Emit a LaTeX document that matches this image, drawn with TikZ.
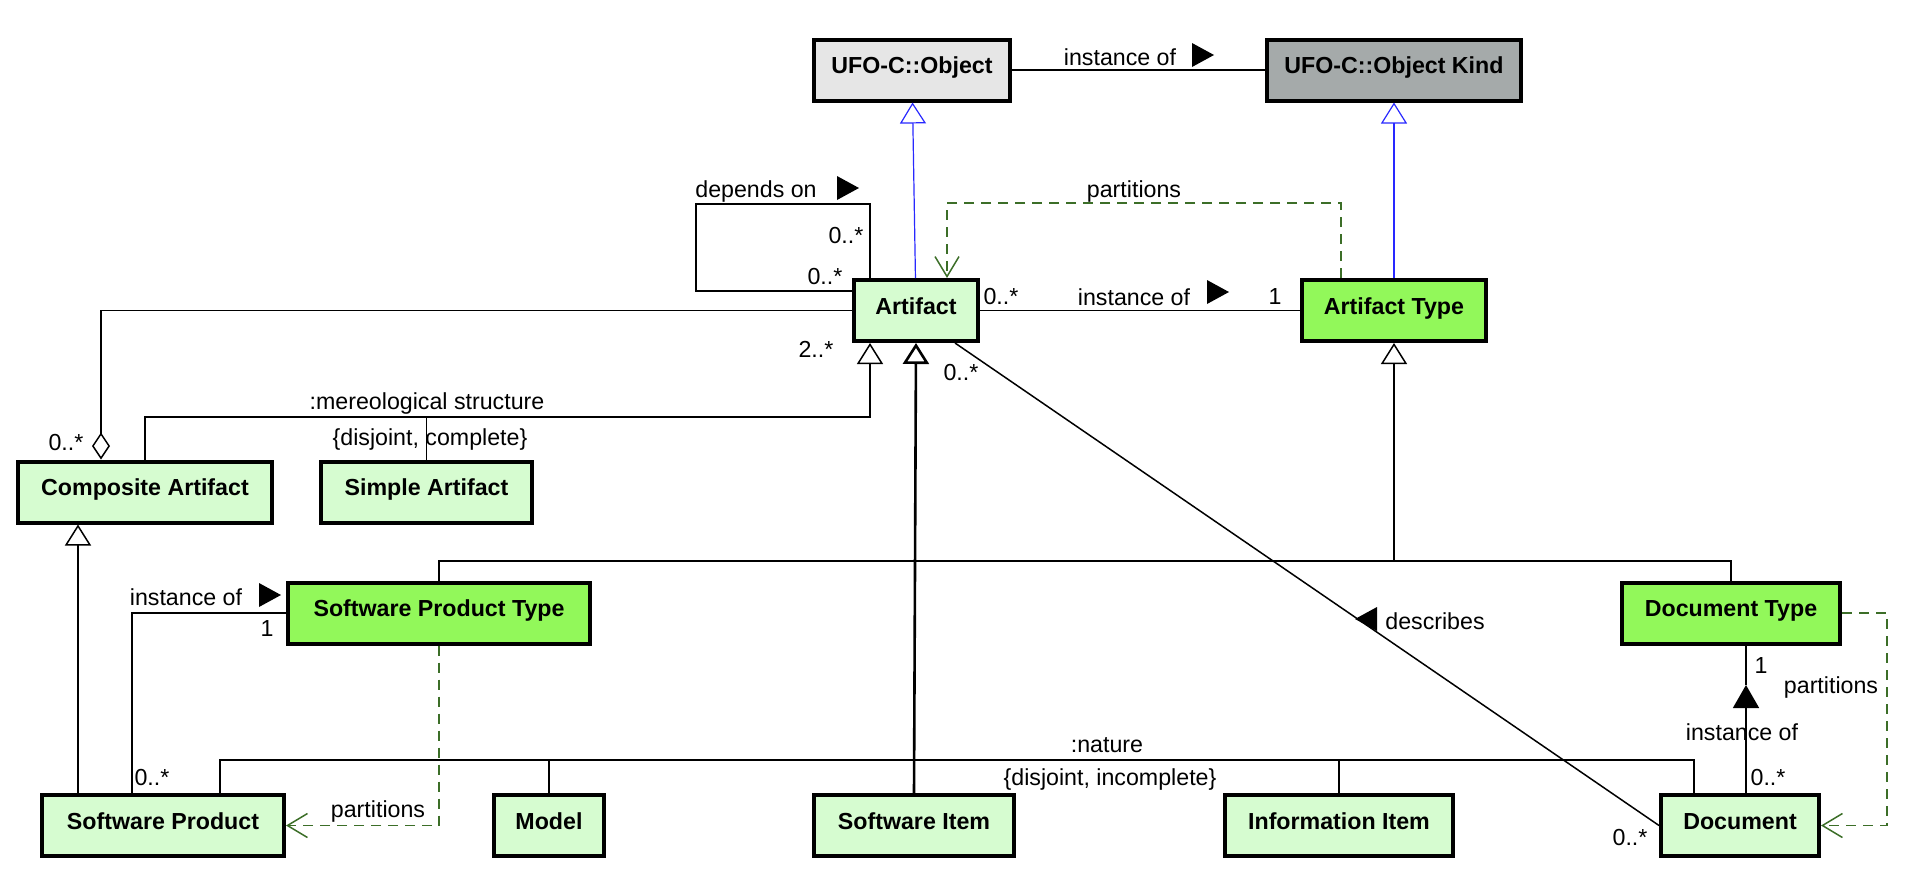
\documentclass[tikz,border=0pt]{standalone}
\usepackage{fontspec}
\setmainfont{Liberation Sans}
\usetikzlibrary{arrows.meta,positioning}

\definecolor{artgreen}{RGB}{214,252,208}
\definecolor{typegreen}{RGB}{146,248,90}
\definecolor{ufolight}{RGB}{230,230,230}
\definecolor{ufodark}{RGB}{165,170,170}
\definecolor{partgreen}{RGB}{60,110,40}
\definecolor{genblue}{RGB}{40,40,255}

\begin{document}
\begin{tikzpicture}[
  x=0.5pt, y=-0.5pt,
  font=\fontsize{11.6}{13}\selectfont,
  cls/.style={draw, line width=2pt, font=\fontsize{11.6}{13}\selectfont\bfseries,
              minimum height=30.5pt, inner sep=0pt, text height=8.5pt, text depth=5pt},
  kind/.style={cls, fill=artgreen},
  ktype/.style={cls, fill=typegreen},
  ufo/.style={cls, fill=ufolight},
  line/.style={line width=0.75pt},
  gen/.style={line, -{Triangle[open, length=10.5pt, width=13pt]}},
  ufogen/.style={gen, draw=genblue, line width=0.6pt},
  part/.style={line, draw=partgreen, dash pattern=on 5pt off 3.5pt,
               -{Straight Barb[length=10pt, width=12pt]}},
  agg/.style={line, -{Diamond[open, length=13.5pt, width=9pt]}},
  lbl/.style={inner sep=0pt},
  dir/.pic={\fill (-11,-12) -- (11,0) -- (-11,12) -- cycle;}
]
\useasboundingbox (0,0) rectangle (1912,874);

% classes
\node[ufo, minimum width=98pt] (obj) at (912,70) {UFO-C::Object};
\node[cls, fill=ufodark, minimum width=127pt] (objkind) at (1394,70) {UFO-C::Object Kind};
\node[kind, minimum width=62pt] (art) at (916,310.5) {Artifact};
\node[ktype, minimum width=92pt] (arttype) at (1394,310.5) {Artifact Type};
\node[kind, minimum width=127pt] (composite) at (145,492) {Composite Artifact};
\node[kind, minimum width=105.5pt] (simple) at (426.5,492) {Simple Artifact};
\node[ktype, minimum width=151pt] (spt) at (439,613) {Software Product Type};
\node[ktype, minimum width=109pt] (doctype) at (1731,613) {Document Type};
\node[kind, minimum width=121pt] (swprod) at (163,825.5) {Software Product};
\node[kind, minimum width=55pt] (model) at (549,825.5) {Model};
\node[kind, minimum width=100pt] (swi) at (914,825.5) {Software Item};
\node[kind, minimum width=114pt] (info) at (1339,825.5) {Information Item};
\node[kind, minimum width=79pt] (doc) at (1740,825.5) {Document};

% bend points
\coordinate (dL) at (696,204);
\coordinate (dR) at (870,204);
\coordinate (dB) at (696,291);
\coordinate (ptR) at (1341,203);
\coordinate (ptL) at (947,203);
\coordinate (aggC) at (101,310.5);
\coordinate (merR) at (870,417);
\coordinate (tyJ) at (1394,561);
\coordinate (natL) at (220,760);
\coordinate (natR) at (1694,760);
\coordinate (siC) at (132,613);
\coordinate (cg) at (78,700);
\coordinate (descX) at (955,400);
\coordinate (dix) at (1746,700);
\coordinate (dtip) at (1746,685);
\coordinate (dpR) at (1887,613);

% connectors
\draw[line] (obj) -- (objkind);
\draw[ufogen] (art) -- (obj);
\draw[ufogen] (arttype) -- (objkind);
\draw[part] (arttype.north -| ptR) -- (ptR) -- (ptL) -- (art.north -| ptL);
\draw[line] (art.west |- dB) -- (dB) -- (dL) -- (dR) -- (art.north -| dR);
\draw[line] (art) -- (arttype);
\draw[agg] (art.west) -- (aggC) -- (composite.north -| aggC);
\draw[gen] (composite.north) |- (merR) -- (art.south -| merR);
\draw[line] (simple.north) -- (simple.north |- merR);
\draw[gen, line width=1.3pt] (swi.north) -- (art.south);
\draw[line] (swprod.north -| natL) |- (natR) -- (doc.north -| natR);
\draw[line] (model.north) -- (model.north |- natL);
\draw[line] (info.north) -- (info.north |- natL);
\draw[line] (spt.north) |- (doctype.north |- tyJ) -- (doctype.north);
\draw[gen] (tyJ) -- (arttype.south);
\draw[line] (spt.west) -- (siC) -- (swprod.north -| siC);
\draw[gen] (swprod.north -| cg) -- (composite.south -| cg);
\draw[part] (spt.south) |- (swprod.east);
\draw[line] (art.south -| descX) -- (doc.west);
\draw[line, -{Triangle[length=11.5pt, width=13pt]}] (doc.north -| dix) -- (dtip);
\draw[line] (dtip) -- (doctype.south -| dix);
\draw[part] (doctype.east) -- (dpR) |- (doc.east);

% labels
\node[lbl] (lInstTop) at (1120,57) {instance of};
\pic at (1203,55) {dir};
\node[lbl] (lDep) at (756,191) {depends on};
\pic at (848,188) {dir};
\node[lbl] (mDepA) at (846,236) {0..*};
\node[lbl] (mDepB) at (825,277) {0..*};
\node[lbl] (lPartTop) at (1134,191) {partitions};
\node[lbl] (mArt) at (1001,297) {0..*};
\node[lbl] (lInstArt) at (1134,297) {instance of};
\pic at (1218,292) {dir};
\node[lbl] (mType) at (1275,297) {1};
\node[lbl] (mComp) at (66,443) {0..*};
\node[lbl] (mPart) at (816,349) {2..*};
\node[lbl] (lMereo) at (427,403) {:mereological structure};
\node[lbl] (lMereoSet) at (430,439) {\{disjoint, complete\}};
\node[lbl] (lInstSpt) at (186,597) {instance of};
\pic at (270,595) {dir};
\node[lbl] (mSpt) at (267,629) {1};
\node[lbl] (mSp) at (152,777) {0..*};
\node[lbl] (lPartSp) at (378,811) {partitions};
\node[lbl] (lNature) at (1107,745) {:nature};
\node[lbl] (lNatureSet) at (1110,779) {\{disjoint, incomplete\}};
\pic[rotate=180] at (1366,619) {dir};
\node[lbl] (lDesc) at (1435,621) {describes};
\node[lbl] (mDescArt) at (961,373) {0..*};
\node[lbl] (mDescDoc) at (1630,837) {0..*};
\node[lbl] (mDocType) at (1761,666) {1};
\node[lbl] (lPartDoc) at (1831,687) {partitions};
\node[lbl] (lInstDoc) at (1742,732) {instance of};
\node[lbl] (mDoc) at (1768,777) {0..*};
\end{tikzpicture}
\end{document}
